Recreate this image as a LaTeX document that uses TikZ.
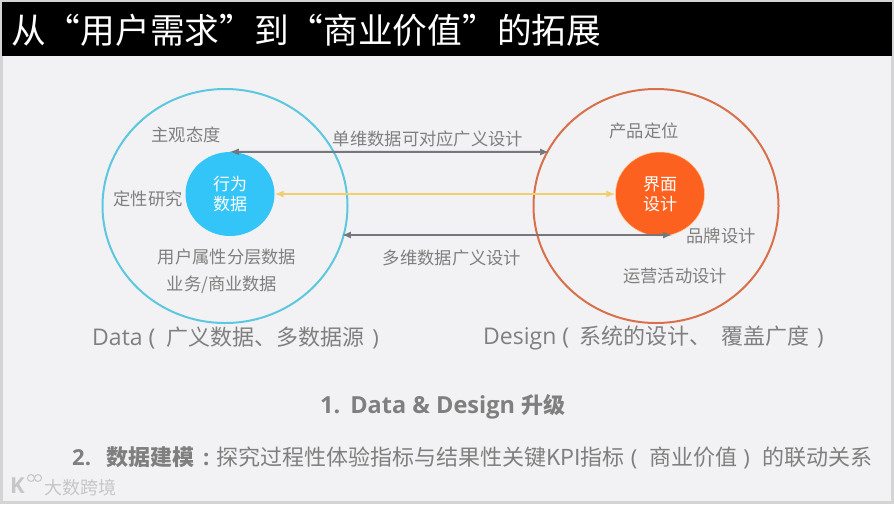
\documentclass[tikz,border=0pt]{standalone}
\usepackage{fontspec}
\setmainfont{Noto Sans CJK SC}
\newfontfamily\latinfont{Open Sans}
\definecolor{pagegray}{HTML}{F2F2F4}
\definecolor{framegray}{HTML}{D4D4D4}
\definecolor{labelgray}{HTML}{7F7F7F}
\definecolor{arrowgray}{HTML}{77767C}
\definecolor{ringblue}{HTML}{5CC8DF}
\definecolor{ringorange}{HTML}{D8704A}
\definecolor{coreblue}{HTML}{33C5F7}
\definecolor{coreorange}{HTML}{FD6120}
\definecolor{linkyellow}{HTML}{F1CE6E}
\definecolor{markgray}{HTML}{C6C6C8}
\usetikzlibrary{shapes.geometric}
\tikzset{
    lbl/.style={text=labelgray,font=\fontsize{17.3}{20}\selectfont,inner sep=0pt},
    captxt/.style={text=labelgray,font=\fontsize{22}{26}\selectfont,inner sep=0pt,anchor=west},
    core/.style={ellipse,minimum width=89pt,minimum height=84pt,inner sep=0pt,align=center,font=\fontsize{17}{20}\selectfont},
    ring/.style={ellipse,draw,line width=2pt,minimum width=245pt,minimum height=234pt},
    grayarrow/.style={<->,>=latex,draw=arrowgray,line width=2pt},
    yellowarrow/.style={<->,>=latex,draw=linkyellow,line width=2pt},
    logodot/.style={circle,draw=markgray,line width=1pt,minimum size=7pt,inner sep=0pt}
}
\begin{document}
\begin{tikzpicture}[x=1pt,y=-1pt]
    \useasboundingbox (0,0) rectangle (894,504);
    \fill[framegray] (0,0) rectangle (894,504);
    \fill[pagegray] (3,56) rectangle (891,501);
    \fill[black] (2,2) rectangle (892,56);
    \node[text=white,font=\fontsize{34.7}{40}\selectfont,anchor=west,inner sep=0pt](T) at (11,30) {从“用户需求”到“商业价值”的拓展};
    % circles
    \node[ring,draw=ringblue](DR) at (225,206) {};
    \node[ring,draw=ringorange](UR) at (656,206) {};
    \node[core,fill=coreblue,text=white](D) at (230,194) {行为\\数据};
    \node[core,fill=coreorange,text=white,draw=orange!40,line width=0.5pt](U) at (660,194) {界面\\设计};
    % left labels
    \node[lbl](L1) at (186,135) {主观态度};
    \node[lbl](L2) at (148,199) {定性研究};
    \node[lbl](L3) at (227,257) {用户属性分层数据};
    \node[lbl](L4) at (222,285) {业务/商业数据};
    % right labels
    \node[lbl](R1) at (644,131) {产品定位};
    \node[lbl](R2) at (721,236) {品牌设计};
    \node[lbl](R3) at (675,276) {运营活动设计};
    % arrows
    \coordinate (A1) at (549,152);
    \coordinate (A2) at (342,235);
    \coordinate (A3) at (672,235);
    \draw[grayarrow] (D.north) -- (A1);
    \draw[yellowarrow] (D) -- (U);
    \draw[grayarrow] (A2) -- (A3);
    \node[lbl](M1) at (428,139) {单维数据可对应广义设计};
    \node[lbl](M2) at (452,258) {多维数据广义设计};
    % captions
    \node[captxt](C1) at (92,338) {{\latinfont\fontsize{23}{26}\selectfont Data\hspace{6pt}(}\hspace{11pt}广义数据、多数据源\hspace{8pt}{\latinfont )}};
    \node[captxt](C2) at (483,338) {{\latinfont\fontsize{23}{26}\selectfont Design\hspace{6pt}(}\hspace{10pt}系统的设计、\hspace{10pt}覆盖广度\hspace{8pt}{\latinfont )}};
    % points
    \node[text=labelgray,font=\fontsize{22}{26}\selectfont\bfseries,inner sep=0pt,anchor=west](P1) at (320,407) {{\latinfont\fontsize{23.5}{26}\selectfont 1.\hspace{10pt}Data \& Design}\hspace{7pt}升级};
    \node[text=labelgray,font=\fontsize{22}{26}\selectfont,anchor=west,inner sep=0pt](P2) at (72,458) {\textbf{{\latinfont 2.}\hspace{15pt}数据建模\hspace{9pt}{\latinfont :}}\hspace{7pt}探究过程性体验指标与结果性关键KPI指标\hspace{6pt}{\latinfont (}\hspace{12pt}商业价值\hspace{6pt}{\latinfont )}\hspace{13pt}的联动关系};
    % watermark
    \node[text=markgray,font=\fontsize{18}{20}\selectfont,anchor=west,inner sep=0pt](W) at (44,488) {大数跨境};
    \node[text=markgray,font=\fontsize{22}{25}\selectfont\bfseries,anchor=west,inner sep=0pt](K) at (10,486) {\latinfont K};
    \node[logodot](K1) at (31,478) {};
    \node[logodot](K2) at (38,478) {};
\end{tikzpicture}
\end{document}
